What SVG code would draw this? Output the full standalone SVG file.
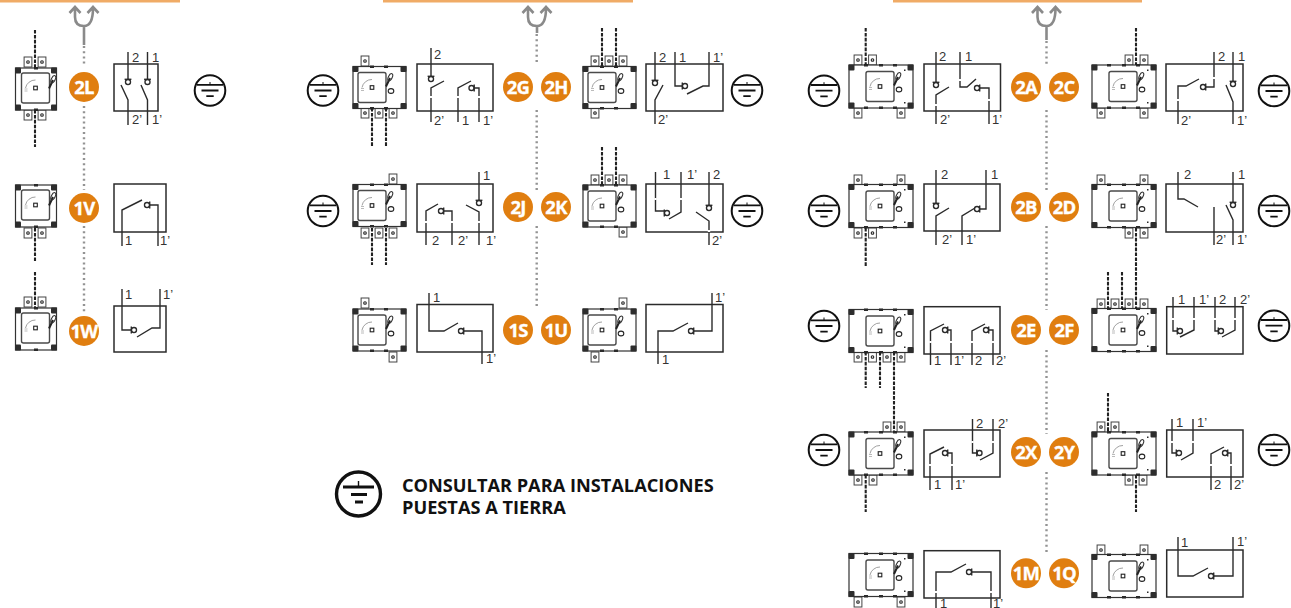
<svg xmlns="http://www.w3.org/2000/svg" width="1291" height="608" viewBox="0 0 1291 608">
<style>
.w{fill:none;stroke:#2b2b2b;stroke-width:1.4}
.bx{fill:none;stroke:#2b2b2b;stroke-width:1.5}
.g{fill:none;stroke:#fff;stroke-width:2.4}
.l{font:13px "Liberation Sans",Arial,sans-serif;fill:#333}
.o{fill:#e07e10}
.bt{font:700 18.5px "Open Sans",sans-serif;fill:#fff;text-anchor:middle;letter-spacing:-.8px;stroke:#fff;stroke-width:.3}
.wire{fill:none;stroke:#222;stroke-width:2.1;stroke-dasharray:3.6 1.3}
.dot{fill:none;stroke:#939393;stroke-width:2.4;stroke-dasharray:2 3.2}
.fork{fill:none;stroke:#8a8a8a;stroke-width:2.6}
.bar{fill:#f0ab66}
.leg{font:700 18.2px "Open Sans",sans-serif;fill:#111}
.cn{fill:#2a2a2a}
</style>
<defs>
<g id="e"><circle r="15.300" fill="none" stroke="#111" stroke-width="2"/><path d="M-13-5.700H13M-8.500 0H8.500M-3.700 5.700H3.700" stroke="#111" stroke-width="1.800" fill="none"/><path d="M0-8.500V-5.700" stroke="#111" stroke-width="1"/></g>
<g id="cv"><path d="M-3.400-2.700H3.400" class="w"/><circle r="2.500" fill="#fff" class="w"/></g>
<g id="cr"><path d="M2.700-3.400V3.400" class="w"/><circle r="2.500" fill="#fff" class="w"/></g>
<g id="cl"><path d="M-2.700-3.400V3.400" class="w"/><circle r="2.500" fill="#fff" class="w"/></g>
<g id="t"><rect x="-3.900" y="0" width="7.800" height="10" fill="#fff" stroke="#444" stroke-width="1"/><circle cy="5" r="1.300" fill="#fff" stroke="#222" stroke-width="1.100"/></g>
<g id="p"><rect x="-14" y="-15" width="28" height="30" rx="2" fill="#fff" stroke="#4a4a4a" stroke-width="1.400"/><rect x="-1.800" y="-1.800" width="3.600" height="3.600" fill="none" stroke="#222" stroke-width="1.100"/><path d="M-10 0A10 10 0 0 1 0-8" fill="none" stroke="#888" stroke-width=".8"/><path d="M-11 1H-8M-11 3H-8" stroke="#aaa" stroke-width=".8"/></g>
<g id="lev"><path d="M-3 6.500L1-2" stroke="#222" stroke-width="2"/><ellipse cy="-3" rx="1.900" ry="4" transform="rotate(25)" fill="none" stroke="#333" stroke-width="1.100"/></g>
<g id="k"><rect x="-3" y="-3" width="6" height="6" rx="1" fill="#2d2d2d"/></g>
<g id="b2"><rect x="-20.500" y="-21" width="41" height="42" fill="#fff" stroke="#333" stroke-width="1.200"/><use href="#k" x="-18" y="-18.500"/><use href="#k" x="18" y="-18.500"/><use href="#k" x="-18" y="18.500"/><use href="#k" x="18" y="18.500"/><rect x="-2" y="-22" width="4" height="2.500" class="cn"/><rect x="-2" y="19.500" width="4" height="2.500" class="cn"/><use href="#p" x="-.5" y="-1"/><use href="#lev" x="16" y="-7"/></g>
<g id="b3"><rect x="-26.500" y="-21" width="53" height="42" fill="#fff" stroke="#333" stroke-width="1.200"/><use href="#k" x="-24" y="-18.500"/><use href="#k" x="24" y="-18.500"/><use href="#k" x="-24" y="18.500"/><use href="#k" x="24" y="18.500"/><rect x="-9.500" y="-22" width="4" height="2.500" class="cn"/><rect x="4.500" y="-22" width="4" height="2.500" class="cn"/><rect x="-9.500" y="19.500" width="4" height="2.500" class="cn"/><rect x="4.500" y="19.500" width="4" height="2.500" class="cn"/><use href="#p" x="-7.500" y="0"/><use href="#lev" x="9.500" y="-7.500"/><ellipse cx="11.500" cy="3.500" rx="2.800" ry="2.400" fill="none" stroke="#222" stroke-width="1.100"/></g>
<g id="b4"><rect x="-32" y="-21.500" width="64" height="43" fill="#fff" stroke="#333" stroke-width="1.200"/><use href="#k" x="-29.500" y="-19"/><use href="#k" x="29.500" y="-19"/><use href="#k" x="-29.500" y="19"/><use href="#k" x="29.500" y="19"/><rect x="-17" y="-22.500" width="4" height="2.500" class="cn"/><rect x="-2" y="-22.500" width="4" height="2.500" class="cn"/><rect x="12" y="-22.500" width="4" height="2.500" class="cn"/><rect x="-17" y="20" width="4" height="2.500" class="cn"/><rect x="-2" y="20" width="4" height="2.500" class="cn"/><rect x="12" y="20" width="4" height="2.500" class="cn"/><rect x="23" y="-17" width="1.500" height="1.500" class="cn"/><rect x="23" y="15.500" width="1.500" height="1.500" class="cn"/><use href="#p" x="-1" y="0"/><use href="#lev" x="16" y="-7.500"/><ellipse cx="18" cy="3" rx="2.800" ry="2.400" fill="none" stroke="#222" stroke-width="1.100"/></g>
</defs>

<g id="top-bars"><rect class="bar" x="0" y="0" width="180" height="2.500"/><rect class="bar" x="383" y="0" width="250" height="2.500"/><rect class="bar" x="893" y="0" width="249" height="2.500"/></g>

<g id="forks">
<path class="fork" d="M75 8V17Q75 26 84 26Q93 26 93 8M69.500 13L75 7L80.500 13M87.500 13L93 7L98.500 13M84 26V45"/>
<path class="fork" d="M528 8V17Q528 26 537 26Q546 26 546 8M522.500 13L528 7L533.500 13M540.500 13L546 7L551.500 13M537 26V33"/>
<path class="fork" d="M1037.500 8V17Q1037.500 26 1046.500 26Q1055.500 26 1055.500 8M1032 13L1037.500 7L1043 13M1050 13L1055.500 7L1061 13M1046.500 26V40"/>
</g>

<g id="n2L"><use href="#t" x="28" y="57"/><use href="#t" x="42" y="57"/><use href="#t" x="28" y="110"/><use href="#t" x="42" y="110"/><use href="#b2" x="36" y="89"/>
<rect class="bx" x="114" y="64" width="44" height="47"/><path class="w" d="M128 52V80M147.500 52V80M121 85L128 100V125M141 85L147.500 100V125"/><use href="#cv" x="128" y="82"/><use href="#cv" x="147.500" y="82"/>
<text class="l" x="132" y="62">2</text><text class="l" x="152" y="62">1</text><text class="l" x="132" y="124">2’</text><text class="l" x="152" y="124">1’</text>
<circle class="o" cx="84" cy="87" r="15"/><text class="bt" x="84" y="93.500">2L</text><use href="#e" x="210" y="90.500"/></g>

<g id="n1V"><use href="#t" x="28" y="228"/><use href="#t" x="42" y="228"/><use href="#b2" x="36" y="206"/>
<rect class="bx" x="114" y="184" width="52" height="48"/><path class="w" d="M122 246V210L142 200M149 205H158V246"/><use href="#cr" x="147" y="205"/>
<text class="l" x="125" y="245">1</text><text class="l" x="160" y="245">1’</text>
<circle class="o" cx="84" cy="208" r="15"/><text class="bt" x="84" y="214.500">1V</text></g>

<g id="n1W"><use href="#t" x="28" y="297"/><use href="#t" x="42" y="297"/><use href="#b2" x="36" y="329"/>
<rect class="bx" x="114" y="306" width="52" height="46"/><path class="w" d="M122 289V330H131M137 337L152 328H160V289"/><use href="#cl" x="134" y="330"/>
<text class="l" x="125" y="299">1</text><text class="l" x="163" y="299">1’</text>
<circle class="o" cx="84" cy="331" r="15"/><text class="bt" x="84" y="337.500">1W</text></g>

<g id="n2G"><use href="#t" x="365" y="56"/><use href="#t" x="365" y="108"/><use href="#t" x="379" y="108"/><use href="#t" x="393" y="108"/><use href="#b3" x="379.500" y="87.500"/>
<rect class="bx" x="417" y="64" width="76" height="47"/><path class="w" d="M431 48V76M444 81L431 88V122M458 122V88L471 81M474 88H479V122"/><path class="g" d="M431 96v2M458 96v2M479 96v2"/><use href="#cv" x="431" y="79"/><use href="#cr" x="471.500" y="88"/>
<text class="l" x="434" y="59">2</text><text class="l" x="434" y="125">2’</text><text class="l" x="462" y="125">1</text><text class="l" x="483" y="125">1’</text>
<circle class="o" cx="518" cy="87" r="15"/><text class="bt" x="518" y="93.500">2G</text><use href="#e" x="323" y="90.500"/></g>

<g id="n2J"><use href="#t" x="393" y="174"/><use href="#t" x="365" y="228"/><use href="#t" x="379" y="228"/><use href="#t" x="393" y="228"/><use href="#b3" x="379.500" y="205.500"/>
<rect class="bx" x="417" y="184" width="76" height="48"/><path class="w" d="M426 245V211L438 204M444 211H452V245M479 172V200M466 205L479 212V245"/><path class="g" d="M426 221v2M452 221v2M479 221v2"/><use href="#cv" x="479" y="203"/><use href="#cr" x="441" y="211"/>
<text class="l" x="483" y="180">1</text><text class="l" x="432" y="245">2</text><text class="l" x="458" y="245">2’</text><text class="l" x="486" y="245">1’</text>
<circle class="o" cx="518" cy="207" r="15"/><text class="bt" x="518" y="213.500">2J</text><use href="#e" x="323" y="211"/></g>

<g id="n1S"><use href="#t" x="365" y="298"/><use href="#t" x="393" y="352"/><use href="#b3" x="379.500" y="330"/>
<rect class="bx" x="417" y="304.500" width="76" height="47.500"/><path class="w" d="M429 293V331H444L458 323M464 331H482V364"/><use href="#cr" x="461" y="331"/>
<text class="l" x="433" y="302">1</text><text class="l" x="486" y="363">1’</text>
<circle class="o" cx="518" cy="330" r="15"/><text class="bt" x="518" y="336.500">1S</text></g>

<g id="n2H"><use href="#t" x="595" y="56"/><use href="#t" x="609" y="56"/><use href="#t" x="623" y="56"/><use href="#t" x="595" y="108"/><use href="#b3" x="609.500" y="87.500"/>
<rect class="bx" x="646" y="64" width="77" height="47"/><path class="w" d="M655 52V80M663 85L655 100V124M675 52V86H682M687 94L703 86H709V52"/><use href="#cv" x="655" y="83"/><use href="#cl" x="685" y="86"/>
<text class="l" x="659" y="62">2</text><text class="l" x="679" y="62">1</text><text class="l" x="713" y="62">1’</text><text class="l" x="658" y="124">2’</text>
<circle class="o" cx="556" cy="87" r="15"/><text class="bt" x="556" y="93.500">2H</text><use href="#e" x="747" y="90.500"/></g>

<g id="n2K"><use href="#t" x="595" y="175"/><use href="#t" x="609" y="175"/><use href="#t" x="623" y="175"/><use href="#t" x="623" y="227"/><use href="#b3" x="609.500" y="206"/>
<rect class="bx" x="646" y="184" width="77" height="48"/><path class="w" d="M655.500 172V211H664M669 219L681 212V172M709 172V205M696 212L709 221V245"/><path class="g" d="M655.500 198v2M681 198v2M709 230v2"/><use href="#cv" x="709" y="208"/><use href="#cl" x="667" y="213"/>
<text class="l" x="663" y="179">1</text><text class="l" x="687" y="179">1’</text><text class="l" x="713" y="179">2</text><text class="l" x="712" y="245">2’</text>
<circle class="o" cx="556" cy="207" r="15"/><text class="bt" x="556" y="213.500">2K</text><use href="#e" x="747" y="211"/></g>

<g id="n1U"><use href="#t" x="623" y="298"/><use href="#t" x="595" y="352"/><use href="#b3" x="609.500" y="330"/>
<rect class="bx" x="646" y="304.500" width="77" height="47.500"/><path class="w" d="M658 364V331H673L688 323M694 331H712V293"/><use href="#cr" x="691" y="331"/>
<text class="l" x="662" y="364">1</text><text class="l" x="715" y="302">1’</text>
<circle class="o" cx="556" cy="330" r="15"/><text class="bt" x="556" y="336.500">1U</text></g>

<g id="n2A"><use href="#t" x="858" y="55"/><use href="#t" x="872.500" y="55"/><use href="#t" x="858" y="108"/><use href="#t" x="901" y="108"/><use href="#b4" x="881" y="86.500"/>
<rect class="bx" x="924" y="64" width="76.500" height="47"/><path class="w" d="M936 52V82M949 87L936 95V124M960 52V87H967L976 79M980 88H989V124"/><path class="g" d="M936 104v2M960 79v2M989 99v2"/><use href="#cv" x="936" y="85"/><use href="#cr" x="977" y="88"/>
<text class="l" x="939" y="61">2</text><text class="l" x="965" y="61">1</text><text class="l" x="940" y="124">2’</text><text class="l" x="992" y="124">1’</text>
<circle class="o" cx="1026" cy="87" r="15"/><text class="bt" x="1026" y="93.500">2A</text><use href="#e" x="824" y="90.700"/></g>

<g id="n2C"><use href="#t" x="1129" y="55"/><use href="#t" x="1144" y="55"/><use href="#t" x="1101" y="108"/><use href="#t" x="1144" y="108"/><use href="#b4" x="1124" y="86.500"/>
<rect class="bx" x="1166" y="64" width="77" height="47"/><path class="w" d="M1178 124V86H1186L1199 79M1205 87H1214V52M1233 52V82M1226 85L1233 102V124"/><path class="g" d="M1178 99v2M1214 77v2"/><use href="#cv" x="1233" y="84"/><use href="#cr" x="1203" y="87"/>
<text class="l" x="1218" y="61">2</text><text class="l" x="1238" y="61">1</text><text class="l" x="1181" y="125">2’</text><text class="l" x="1237" y="125">1’</text>
<circle class="o" cx="1064" cy="87" r="15"/><text class="bt" x="1064" y="93.500">2C</text><use href="#e" x="1274" y="91"/></g>

<g id="n2B"><use href="#t" x="858" y="175"/><use href="#t" x="901" y="175"/><use href="#t" x="858" y="228"/><use href="#t" x="872.500" y="228"/><use href="#b4" x="881" y="206"/>
<rect class="bx" x="924" y="184" width="76" height="47"/><path class="w" d="M936 170V203M949 208L936 216V245M962 245V216L975 208M980 209H986V170"/><use href="#cv" x="936" y="206"/><use href="#cr" x="977" y="209"/>
<text class="l" x="941" y="179">2</text><text class="l" x="991" y="179">1</text><text class="l" x="942" y="244">2’</text><text class="l" x="966" y="244">1’</text>
<circle class="o" cx="1026" cy="207" r="15"/><text class="bt" x="1026" y="213.500">2B</text><use href="#e" x="824" y="211"/></g>

<g id="n2D"><use href="#t" x="1101" y="175"/><use href="#t" x="1144" y="175"/><use href="#t" x="1129" y="228"/><use href="#t" x="1144" y="228"/><use href="#b4" x="1124" y="206"/>
<rect class="bx" x="1166" y="184" width="77" height="48"/><path class="w" d="M1178 172V199H1184L1198 207M1214 245V207M1233 172V203M1226 205L1233 220V245"/><use href="#cv" x="1233" y="205"/>
<text class="l" x="1184" y="179">2</text><text class="l" x="1238" y="179">1</text><text class="l" x="1216" y="244">2’</text><text class="l" x="1237" y="244">1’</text>
<circle class="o" cx="1064" cy="207" r="15"/><text class="bt" x="1064" y="213.500">2D</text><use href="#e" x="1274" y="211"/></g>

<g id="n2E"><use href="#t" x="858" y="352"/><use href="#t" x="872.500" y="352"/><use href="#t" x="887" y="352"/><use href="#t" x="901" y="352"/><use href="#b4" x="881" y="331"/>
<rect class="bx" x="924" y="306.700" width="76" height="47.300"/><path class="w" d="M930.500 365V331L944 324M948 330H951V365M972 365V331L985 324M989 330H993V365"/><path class="g" d="M930.500 341v2M951 341v2M972 341v2M993 341v2"/><use href="#cr" x="945" y="330"/><use href="#cr" x="986" y="330"/>
<text class="l" x="934" y="365">1</text><text class="l" x="954" y="365">1’</text><text class="l" x="975" y="365">2</text><text class="l" x="996" y="365">2’</text>
<circle class="o" cx="1026" cy="330" r="15"/><text class="bt" x="1026" y="336.500">2E</text><use href="#e" x="824" y="326"/></g>

<g id="n2F"><use href="#t" x="1101" y="299"/><use href="#t" x="1115" y="299"/><use href="#t" x="1129" y="299"/><use href="#t" x="1144" y="299"/><use href="#b4" x="1124" y="330"/>
<rect class="bx" x="1166.700" y="306.700" width="76.300" height="47.300"/><path class="w" d="M1173 297V331H1178M1180 337L1194 330V297M1215 297V331H1219M1222 337L1235 330V297"/><path class="g" d="M1173 318v2M1194 318v2M1215 318v2M1235 318v2"/><use href="#cl" x="1180" y="331"/><use href="#cl" x="1221" y="331"/>
<text class="l" x="1178" y="304">1</text><text class="l" x="1199" y="304">1’</text><text class="l" x="1219" y="304">2</text><text class="l" x="1240" y="304">2’</text>
<circle class="o" cx="1064" cy="330" r="15"/><text class="bt" x="1064" y="336.500">2F</text><use href="#e" x="1274" y="325.700"/></g>

<g id="n2X"><use href="#t" x="887" y="422"/><use href="#t" x="901" y="422"/><use href="#t" x="858" y="475"/><use href="#t" x="873" y="475"/><use href="#b4" x="881" y="453.500"/>
<rect class="bx" x="924" y="430" width="76" height="47"/><path class="w" d="M930 490V454L944 447M948 453H952V490M972.500 419V453H978M980 460L993 453V419"/><path class="g" d="M930 464v2M952 464v2M972.500 441v2M993 441v2"/><use href="#cr" x="945" y="453"/><use href="#cl" x="979.500" y="453"/>
<text class="l" x="934" y="489">1</text><text class="l" x="955" y="489">1’</text><text class="l" x="976" y="428">2</text><text class="l" x="998" y="428">2’</text>
<circle class="o" cx="1026" cy="452" r="15"/><text class="bt" x="1026" y="458.500">2X</text><use href="#e" x="824" y="450"/></g>

<g id="n2Y"><use href="#t" x="1101" y="422"/><use href="#t" x="1115" y="422"/><use href="#t" x="1129" y="475"/><use href="#t" x="1143" y="475"/><use href="#b4" x="1124" y="453.500"/>
<rect class="bx" x="1166.700" y="430" width="76.300" height="47"/><path class="w" d="M1172 419V453H1176M1181 460L1193 453V419M1211 490V454L1224 447M1228 453H1231V490"/><path class="g" d="M1172 441v2M1193 441v2M1211 464v2M1231 464v2"/><use href="#cl" x="1179" y="453"/><use href="#cr" x="1225" y="453"/>
<text class="l" x="1176" y="427">1</text><text class="l" x="1197" y="427">1’</text><text class="l" x="1214" y="489">2</text><text class="l" x="1234" y="489">2’</text>
<circle class="o" cx="1064" cy="452" r="15"/><text class="bt" x="1064" y="458.500">2Y</text><use href="#e" x="1274" y="450"/></g>

<g id="n1M"><use href="#t" x="858" y="597"/><use href="#t" x="901" y="597"/><use href="#b4" x="881" y="575"/>
<rect class="bx" x="924" y="550.700" width="76" height="47.300"/><path class="w" d="M936 608V572H951L966 564M972 572H991V608"/><path class="g" d="M936 591v2M991 591v2"/><use href="#cr" x="969" y="572"/>
<text class="l" x="940" y="607.500">1</text><text class="l" x="993" y="607.500">1’</text>
<circle class="o" cx="1026" cy="573.300" r="15"/><text class="bt" x="1026" y="579.800">1M</text></g>

<g id="n1Q"><use href="#t" x="1101" y="545"/><use href="#t" x="1144" y="545"/><use href="#b4" x="1124" y="576"/>
<rect class="bx" x="1166.700" y="550" width="76.300" height="47"/><path class="w" d="M1178 537V576H1193L1208 568M1214 576H1233V537"/><use href="#cr" x="1211" y="576"/>
<text class="l" x="1181" y="547">1</text><text class="l" x="1237" y="546">1’</text>
<circle class="o" cx="1064" cy="573.300" r="15"/><text class="bt" x="1064" y="579.800">1Q</text></g>

<g id="connectors">
<path class="dot" d="M84 46V66M84 106V190M84 226V312"/>
<path class="dot" d="M536.700 34V65M536.700 110V192M536.700 226V306"/>
<path class="dot" d="M1046.500 41V65M1046.500 110V190M1046.500 226V310M1046.500 350V434M1046.500 472V554"/>
<path class="wire" d="M35 30V68M35 110V147M35 228V262M35 272V308"/>
<path class="wire" d="M372 108V146M386 108V146M372 228V265M386 228V265"/>
<path class="wire" d="M602 28V66M616 28V66M602 147V185M616 147V185"/>
<path class="wire" d="M865.700 28V65M865.700 228V267M865.700 352V388M880 352V388M894 352V432M865.700 475V512"/>
<path class="wire" d="M1136 28V65M1136 228V309M1108 272V309M1122 272V309M1108 393V432M1136 475V512"/>
</g>

<g id="legend"><circle cx="358.500" cy="494" r="22" fill="none" stroke="#111" stroke-width="3.400"/><path d="M343 487H374M351 494.500H367M355 502H363" stroke="#111" stroke-width="2.800" fill="none"/><path d="M358.500 481V487" stroke="#111" stroke-width="1.400"/>
<text class="leg" x="402" y="492">CONSULTAR PARA INSTALACIONES</text><text class="leg" x="402" y="513.500">PUESTAS A TIERRA</text></g>
</svg>
